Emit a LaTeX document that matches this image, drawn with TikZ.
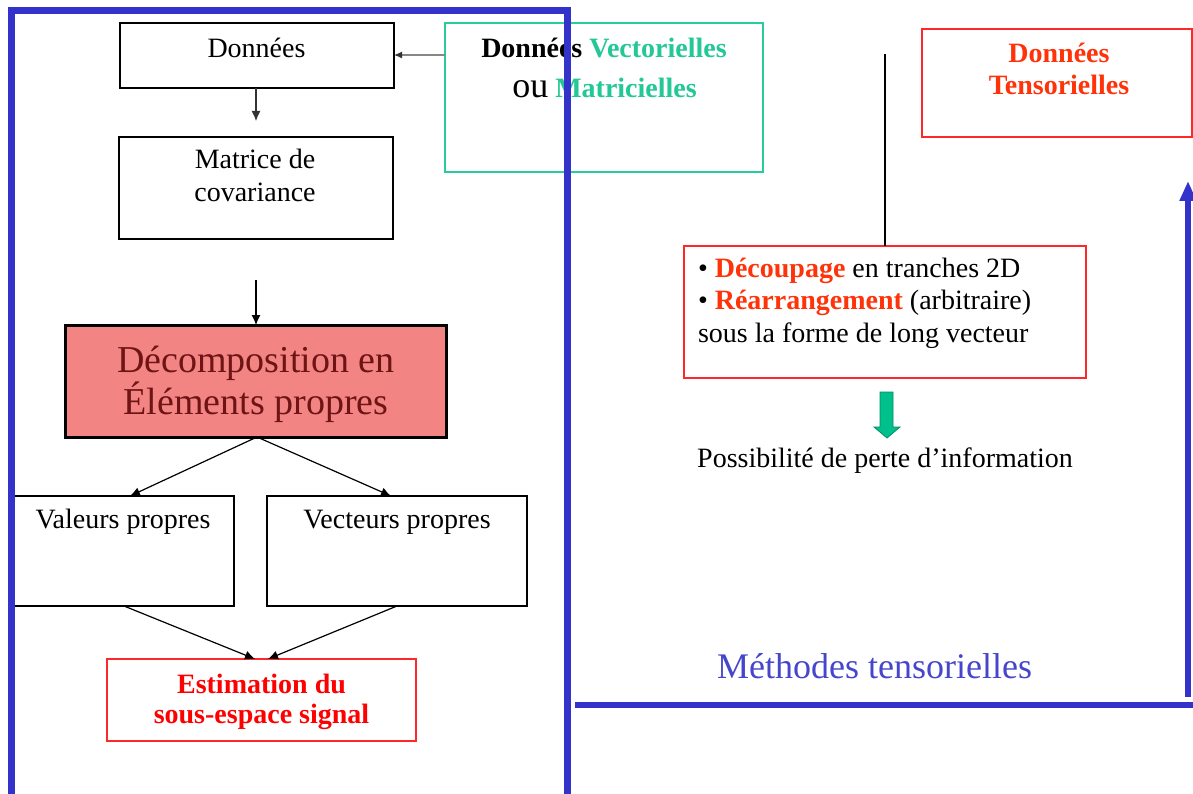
\documentclass[tikz,border=0pt]{standalone}
\usepackage{fontspec}
\setmainfont{Liberation Serif}
\usetikzlibrary{arrows.meta}
\definecolor{bluev}{RGB}{51,51,204}
\definecolor{bluetxt}{RGB}{70,70,205}
\definecolor{greenb}{RGB}{40,205,155}
\definecolor{greent}{RGB}{35,200,150}
\definecolor{redb}{RGB}{255,40,40}
\definecolor{redt}{RGB}{255,51,10}
\definecolor{redest}{RGB}{255,0,0}
\definecolor{decfill}{RGB}{242,132,132}
\definecolor{dectxt}{RGB}{110,20,20}
\definecolor{garrow}{RGB}{0,192,140}
\definecolor{garrowd}{RGB}{0,140,100}
\definecolor{grayarr}{RGB}{135,135,135}
\begin{document}
\begin{tikzpicture}[x=1pt,y=1pt,
  every node/.style={inner sep=0pt, outer sep=0pt},
  box/.style={draw=black, line width=1.6pt, rectangle},
  redbox/.style={draw=redb, line width=1.8pt, rectangle},
  txt/.style={font=\fontsize{28}{33}\selectfont, anchor=base},
  btxt/.style={font=\fontsize{28}{33}\selectfont\bfseries, anchor=base},
  arr/.style={-{Latex[length=10pt,width=9pt]}, line width=1.2pt},
  bigline/.style={draw=bluev, line width=7pt},
]
\useasboundingbox (0,0) rectangle (1193,-794);
\fill[white] (0,0) rectangle (1193,-794);

% green box (behind blue frame)
\node[draw=greenb, line width=2pt, minimum width=318pt, minimum height=149pt] (vect) at (604,-97.5) {};
\node[btxt] (vt1) at (604,-57.7) {Données \textcolor{greent}{Vectorielles}};
\node[txt, anchor=base] (vt2) at (604.5,-98) {{\fontsize{36}{40}\selectfont ou} \textcolor{greent}{\bfseries Matricielles}};

% Données
\node[box, minimum width=274pt, minimum height=65pt] (donnees) at (257,-55.5) {};
\node[txt] (tdon) at (256.5,-57.7) {Données};

% Matrice
\node[box, minimum width=274pt, minimum height=102pt] (matrice) at (256,-188) {};
\node[txt] (tmat1) at (255,-169) {Matrice de};
\node[txt] (tmat2) at (255,-202) {covariance};

% Décomposition
\node[draw=black, line width=3pt, fill=decfill, minimum width=381pt, minimum height=112pt] (decomp) at (255.5,-381) {};
\node[anchor=base, font=\fontsize{38}{42}\selectfont, text=dectxt] (tdec1) at (256,-372) {Décomposition en};
\node[anchor=base, font=\fontsize{38}{42}\selectfont, text=dectxt] (tdec2) at (256,-414) {Éléments propres};

% Valeurs / Vecteurs
\node[box, minimum width=221pt, minimum height=110pt] (valeurs) at (123.5,-551) {};
\node[txt] (tval) at (123,-528) {Valeurs propres};
\node[box, minimum width=260pt, minimum height=110pt] (vecteurs) at (397,-551) {};
\node[txt] (tvec) at (397,-528) {Vecteurs propres};

% Estimation
\node[redbox, minimum width=309pt, minimum height=82pt] (estim) at (261.5,-700) {};
\node[btxt, text=redest] (test1) at (261.5,-693) {Estimation du};
\node[btxt, text=redest] (test2) at (261.5,-723) {sous-espace signal};

% blue frame (drawn over the green box)
\draw[bigline] (11.5,-797) -- (11.5,-10.5) -- (567,-10.5) -- (567,-797);

% arrows left part
\draw[arr, draw=grayarr, -{Latex[length=8pt,width=7pt,color=black!80]}] (vect.west |- 0,-55) -- (donnees.east |- 0,-55);
\draw[arr, draw=black!80] (donnees.south -| 256,0) -- (256,-121);
\path (matrice.south -| 256,0) ++(0,-41) coordinate (mstart);
\draw[arr] (mstart) -- (decomp.north -| 256,0);
\draw[arr] (decomp.south -| 257,0) -- (valeurs.north -| 130,0);
\draw[arr] (decomp.south -| 257,0) -- (vecteurs.north -| 391,0);
\draw[arr] (valeurs.south -| 124,0) -- (estim.north -| 255,0);
\draw[arr] (vecteurs.south -| 397,0) -- (estim.north -| 268,0);

% right part
\node[redbox, minimum width=270pt, minimum height=108pt] (tens) at (1057,-83) {};
\node[btxt, text=redt] (tten1) at (1059,-63) {Données};
\node[btxt, text=redt] (tten2) at (1059,-95) {Tensorielles};

\node[redbox, minimum width=402pt, minimum height=132pt] (decoup) at (885,-312) {};
\coordinate (ltop) at (885,-54);
\draw[line width=1.3pt] (ltop) -- (decoup.north);
\node[txt, anchor=base west] (l1) at (698,-277) {\textbullet{} \textcolor{redt}{\bfseries Découpage} en tranches 2D};
\node[txt, anchor=base west] (l2) at (698,-309) {\textbullet{} \textcolor{redt}{\bfseries Réarrangement} (arbitraire)};
\node[txt, anchor=base west] (l3) at (698,-342) {sous la forme de long vecteur};

% green block arrow
\filldraw[fill=garrow, draw=garrowd, line width=0.8pt]
  (880,-392) -- (893,-392) -- (893,-427) -- (900,-427) -- (887,-438)
  -- (874,-427) -- (880,-427) -- cycle;

\node[txt] (poss) at (885,-467) {Possibilité de perte d’information};

\node[anchor=base, font=\fontsize{36}{40}\selectfont, text=bluetxt] (meth) at (874.5,-678) {Méthodes tensorielles};

% blue L line with arrow
\coordinate (hl) at (575,-705);
\coordinate (hr) at (1193,-705);
\draw[bigline, line width=6pt] (hl) -- (hr);
\coordinate (vb) at (1188,-697);
\coordinate (vt) at (1188,-181);
\draw[draw=bluev, line width=6pt, -{Triangle[length=20pt,width=16pt]}] (vb) -- (vt);
\end{tikzpicture}
\end{document}
